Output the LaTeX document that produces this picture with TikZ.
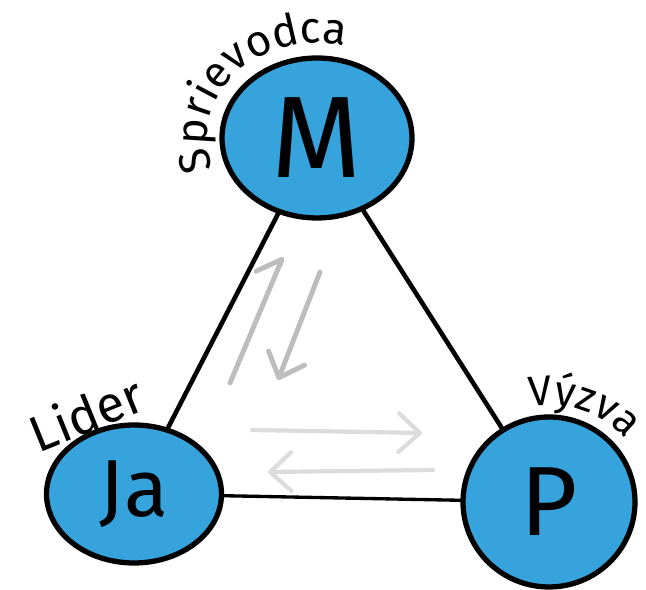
\documentclass[tikz,border=0pt]{standalone}
\usepackage{fontspec}
\setsansfont{Fira Sans}
\usetikzlibrary{arrows.meta,shapes.geometric,decorations.text}
\definecolor{skyblue}{HTML}{36A3DD}
\definecolor{arrowgray}{HTML}{BDBDBD}
\definecolor{palegray}{HTML}{DCDCDC}

\begin{document}
\begin{tikzpicture}[x=0.02cm,y=0.02cm,line cap=round,
    main node/.style={ellipse,draw,line width=3pt,fill=skyblue,inner sep=0pt,font=\sffamily},
    gray arrow/.style={-{Straight Barb[length=12pt,width=22pt,round]},line width=2.8pt,draw=arrowgray},
    label text/.style={font=\sffamily\fontsize{29}{32}\selectfont}]
    \useasboundingbox (0,0) rectangle (646,590);
    \node[main node,minimum width=3.8cm,minimum height=3.2cm,font=\sffamily\fontsize{66}{70}\selectfont] (m) at (317,452) {M};
    \node[main node,minimum width=3.5cm,minimum height=2.76cm,font=\sffamily\fontsize{46}{50}\selectfont] (ja) at (134,96) {Ja};
    \node[main node,minimum width=3.44cm,minimum height=3.4cm,font=\sffamily\fontsize{56}{60}\selectfont] (p) at (549,88) {P};
    \path[line width=2.6pt]
    (m) edge (ja)
    edge (p)
    (ja) edge [line width=1.9pt] (p);
    % labels
    \node[label text,rotate=22] (lider) at (86,177) {Lider};
    \path[decorate,decoration={text along path,text align=left,
        text={|\sffamily\fontsize{25}{28}\selectfont|Sprievodca}}]
    (m.center) ++(199:110 and 95) arc[start angle=199,end angle=70,x radius=110,y radius=95];
    \path[decorate,decoration={text along path,text align=left,
        text={|\sffamily\fontsize{24}{28}\selectfont|Výzva}}]
    (p.center) ++(101:100 and 97) arc[start angle=101,end angle=20,x radius=100,y radius=97];
    % gray arrows
    \coordinate (up tail) at (230,207);
    \coordinate (up tip) at (283,333);
    \coordinate (down tail) at (320,318);
    \coordinate (down tip) at (278,210);
    \coordinate (right tail) at (252,160);
    \coordinate (right tip) at (422,157);
    \coordinate (left tail) at (433,120);
    \coordinate (left tip) at (268,118);
    \draw[gray arrow,-{Straight Barb[length=12pt,width=22pt,round,harpoon]}] (up tail) -- (up tip);
    \draw[gray arrow] (down tail) -- (down tip);
    \draw[gray arrow,draw=palegray,line width=2.4pt] (right tail) -- (right tip);
    \draw[gray arrow,draw=palegray,line width=2.4pt] (left tail) -- (left tip);
\end{tikzpicture}
\end{document}
